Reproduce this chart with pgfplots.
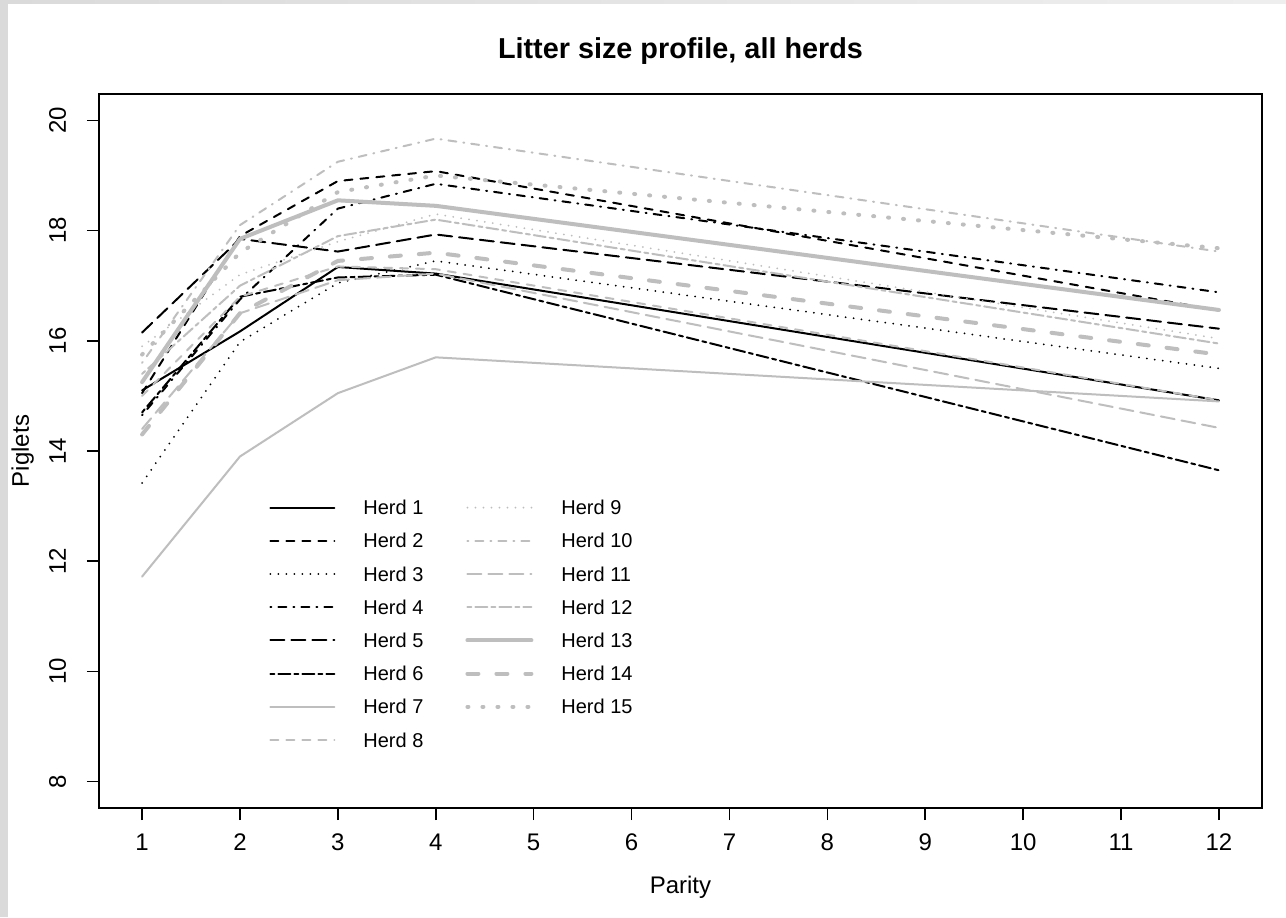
\documentclass[border=0pt]{standalone}
\usepackage{fontspec}
\setmainfont{Liberation Sans}
\usepackage{pgfplots}
\usepackage{pgfplotstable}
\pgfplotsset{compat=1.18}
\definecolor{rgray}{RGB}{190,190,190}
\definecolor{bggray}{RGB}{218,218,218}

% R line types: solid, dashed, dotted, dotdash, longdash, twodash
\pgfplotsset{
  lt1/.style={solid},
  lt2/.style={dash pattern=on 4pt off 4pt},
  lt3/.style={dash pattern=on 0pt off 4pt},
  lt4/.style={dash pattern=on 0.5pt off 3.5pt on 4pt off 3.5pt},
  lt5/.style={dash pattern=on 7pt off 3.5pt},
  lt6/.style={dash pattern=on 2pt off 2pt on 6pt off 2pt},
  rthin/.style={line width=1pt, line cap=round, line join=round},
  rfat/.style={line width=2pt, line cap=round, line join=round},
  h1/.style={black, rthin, lt1},
  h2/.style={black, rthin, lt2},
  h3/.style={black, rthin, lt3},
  h4/.style={black, rthin, lt4},
  h5/.style={black, rthin, lt5},
  h6/.style={black, rthin, lt6},
  h7/.style={rgray, rthin, lt1},
  h8/.style={rgray, rthin, lt2},
  h9/.style={rgray, rthin, lt3},
  h10/.style={rgray, rthin, lt4},
  h11/.style={rgray, rthin, lt5},
  h12/.style={rgray, rthin, lt6},
  h13/.style={rgray, rfat, solid},
  h14/.style={rgray, rfat, dash pattern=on 5.5pt off 9pt},
  h15/.style={rgray, rfat, dash pattern=on 0.5pt off 7pt},
}

% mean litter size by parity (lines are straight from parity 4 to 12)
\pgfplotstableread{
p  h1    h2    h3    h4    h5    h6    h7    h8    h9    h10   h11   h12   h13   h14   h15
1  15.10 15.05 13.42 14.65 16.15 14.70 11.72 15.00 15.90 15.60 14.40 15.40 15.25 14.30 15.75
2  16.17 17.90 15.98 16.75 17.85 16.80 13.90 16.80 17.20 18.10 16.50 17.00 17.85 16.50 17.60
3  17.34 18.90 17.05 18.40 17.62 17.15 15.05 17.35 17.80 19.25 17.10 17.90 18.55 17.45 18.70
4  17.22 19.08 17.45 18.85 17.93 17.20 15.70 17.30 18.30 19.67 17.22 18.20 18.45 17.60 19.00
12 14.92 16.55 15.50 16.88 16.22 13.65 14.90 14.92 16.04 17.62 14.42 15.95 16.56 15.75 17.68
}\herds

\begin{document}
\begin{tikzpicture}
\fill[white] (0,0) rectangle (643pt,458.5pt);
\fill[bggray] (0,0) rectangle (4pt,458.5pt);
\shade[left color=bggray, right color=bggray!45] (0,456.5pt) rectangle (643pt,458.5pt);
\begin{axis}[
    at={(49.5pt,54.5pt)}, anchor=south west,
    scale only axis,
    width=581.5pt, height=357pt,
    xmin=0.56, xmax=12.44,
    ymin=7.52, ymax=20.48,
    xtick={1,2,...,12},
    ytick={8,10,...,20},
    tick pos=left,
    tick align=outside,
    major tick length=6pt,
    tick style={black, line width=0.8pt},
    axis line style={black, line width=1pt},
    /pgf/number format/assume math mode=true,
    ticklabel style={font=\fontsize{12}{14}\selectfont},
    xticklabel style={anchor=base, yshift=-15pt},
    yticklabel style={rotate=90, anchor=base, yshift=10.5pt},
    title={\bfseries Litter size profile, all herds},
    title style={at={(axis description cs:0.5,1)}, anchor=base, yshift=11.5pt,
        font=\fontsize{14.4}{16}\selectfont},
    xlabel={Parity},
    xlabel style={at={(axis description cs:0.5,0)}, anchor=base, yshift=-42.5pt,
        font=\fontsize{12}{14}\selectfont},
    ylabel={Piglets},
    ylabel style={at={(axis description cs:0,0.5)}, anchor=base, yshift=35pt,
        font=\fontsize{12}{14}\selectfont},
    legend style={at={(0.141,0.437)}, anchor=north west, draw=none, fill=none,
        font=\fontsize{10}{12}\selectfont,
        nodes={inner sep=0pt, text height=7.2pt, text depth=0pt},
        row sep=9.4pt,
        /tikz/every odd column/.append style={column sep=14pt},
        /tikz/every even column/.append style={column sep=21pt}},
    legend columns=2,
    legend cell align=left,
    legend image code/.code={\draw[#1] (0pt,0pt) -- (32pt,0pt);},
]
\pgfplotsinvokeforeach{1,...,15}{
  \addplot[h#1, forget plot] table[x=p, y=h#1] {\herds};
}
\addlegendimage{h1}\addlegendentry{Herd 1}
\addlegendimage{h9}\addlegendentry{Herd 9}
\addlegendimage{h2}\addlegendentry{Herd 2}
\addlegendimage{h10}\addlegendentry{Herd 10}
\addlegendimage{h3}\addlegendentry{Herd 3}
\addlegendimage{h11}\addlegendentry{Herd 11}
\addlegendimage{h4}\addlegendentry{Herd 4}
\addlegendimage{h12}\addlegendentry{Herd 12}
\addlegendimage{h5}\addlegendentry{Herd 5}
\addlegendimage{h13}\addlegendentry{Herd 13}
\addlegendimage{h6}\addlegendentry{Herd 6}
\addlegendimage{h14}\addlegendentry{Herd 14}
\addlegendimage{h7}\addlegendentry{Herd 7}
\addlegendimage{h15}\addlegendentry{Herd 15}
\addlegendimage{h8}\addlegendentry{Herd 8}
\end{axis}
\pgfresetboundingbox
\useasboundingbox (0,0) rectangle (643pt,458.5pt);
\end{tikzpicture}
\end{document}
